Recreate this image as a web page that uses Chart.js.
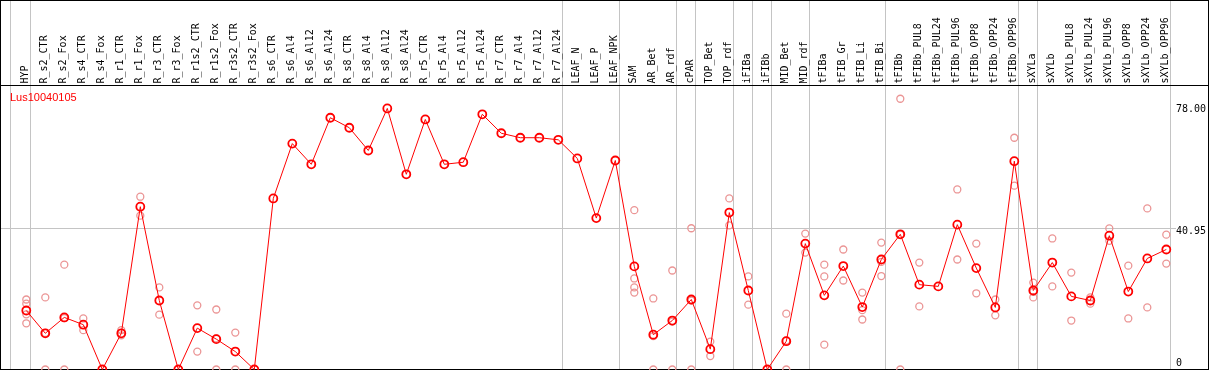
<!DOCTYPE html>
<html>
<head>
<meta charset="utf-8">
<script src="https://cdn.jsdelivr.net/npm/chart.js@4.4.1/dist/chart.umd.min.js"></script>
<style>
  body { margin: 0; background: #fff; }
  canvas { display: block; }
</style>
</head>
<body>
<canvas id="myChart" width="1209" height="370"></canvas>
<script>
const title = 'Lus10040105';

const labels = ['HYP', 'R_s2_CTR', 'R_s2_Fox', 'R_s4_CTR', 'R_s4_Fox', 'R_r1_CTR', 'R_r1_Fox',
  'R_r3_CTR', 'R_r3_Fox', 'R_r1s2_CTR', 'R_r1s2_Fox', 'R_r3s2_CTR', 'R_r3s2_Fox',
  'R_s6_CTR', 'R_s6_Al4', 'R_s6_Al12', 'R_s6_Al24', 'R_s8_CTR', 'R_s8_Al4', 'R_s8_Al12', 'R_s8_Al24',
  'R_r5_CTR', 'R_r5_Al4', 'R_r5_Al12', 'R_r5_Al24', 'R_r7_CTR', 'R_r7_Al4', 'R_r7_Al12', 'R_r7_Al24',
  'LEAF_N', 'LEAF_P', 'LEAF_NPK', 'SAM', 'AR_Bet', 'AR_rdf', 'cPAR', 'TOP_Bet', 'TOP_rdf',
  'iFIBa', 'iFIBb', 'MID_Bet', 'MID_rdf', 'tFIBa', 'tFIB_Gr', 'tFIB_Li', 'tFIB_Bi',
  'tFIBb', 'tFIBb_PUL8', 'tFIBb_PUL24', 'tFIBb_PUL96', 'tFIBb_OPP8', 'tFIBb_OPP24', 'tFIBb_OPP96',
  'sXYLa', 'sXYLb', 'sXYLb_PUL8', 'sXYLb_PUL24', 'sXYLb_PUL96', 'sXYLb_OPP8', 'sXYLb_OPP24', 'sXYLb_OPP96'];

// mean expression
const means = [17.1, 10.5, 15.1, 13.0, 0, 10.5, 47.2, 20.0, 0, 12.0, 8.8, 5.2, 0,
  49.6, 65.5, 59.5, 73.0, 70.1, 63.5, 75.7, 56.6, 72.5, 59.5, 60.1, 74.0, 68.5, 67.2, 67.2, 66.6,
  61.2, 43.9, 60.6, 29.9, 10.1, 14.2, 20.3, 5.9, 45.5, 22.9, 0, 8.2, 36.5,
  21.5, 30.0, 18.1, 31.9, 39.2, 24.6, 24.1, 42.0, 29.4, 18.0, 60.4,
  22.9, 31.0, 21.2, 20.0, 38.8, 22.6, 32.2, 34.8];

// replicates (null = none)
const rep1 = [20.3, 20.9, 30.4, 14.8, null, 11.4, 50.1, 23.8, null, 18.6, 17.4, 10.7, null,
  null, null, null, null, null, null, null, null, null, null, null, null, null, null, null, null,
  null, null, null, 46.2, 20.6, 28.7, 40.95, 8.1, 49.6, 27.0, null, 16.2, 39.4,
  30.4, 34.8, 22.3, 36.8, 78.5, 31.0, null, 52.2, 36.5, 20.3, 67.2,
  25.2, 38.0, 28.1, 20.9, 40.9, 30.1, 46.7, 39.1];
const rep2 = [19.1, 0, 0, 11.4, null, 9.9, 44.6, 15.9, null, 5.2, 0, 0, null,
  null, null, null, null, null, null, null, null, null, null, null, null, null, null, null, null,
  null, null, null, 26.4, 0, 0, 0, 3.9, 41.8, 18.8, null, 0, 33.9,
  27.0, 25.8, 17.2, 31.2, 0, 18.3, null, 31.9, 22.1, 15.7, 53.3,
  20.9, 24.1, 14.2, 19.1, 37.3, 14.8, 18.0, 30.7];
const rep3 = [16.0, 10.6, 14.9, null, null, null, null, null, null, null, 9.0, null, null,
  null, null, null, null, null, null, null, null, null, null, null, null, null, null, null, null,
  null, null, null, 23.8, 9.7, 13.9, 20.0, null, null, null, null, 8.4, null,
  7.2, null, 14.5, 27.1, 39.1, null, null, null, null, null, null,
  22.5, null, null, null, null, null, null, null];
const rep4 = [13.4, null, null, null, null, null, null, null, null, null, null, null, null,
  null, null, null, null, null, null, null, null, null, null, null, null, null, null, null, null,
  null, null, null, 22.3, null, null, null, null, null, null, null, null, null,
  null, null, null, null, null, null, null, null, null, null, null,
  null, null, null, null, null, null, null, null];

const yTicks = [0, 40.95, 78];
const yTickText = ['0', '40.95', '78.00'];
const groupEnds = [-1, 0, 28, 31, 34, 35, 37, 38, 39, 41, 45, 52, 53, 60];

const repColor = '#eb9595';

function repSet(arr) {
  return {
    data: arr,
    showLine: false,
    borderColor: repColor,
    backgroundColor: 'rgba(0,0,0,0)',
    pointRadius: 3.5,
    pointBorderWidth: 1.3,
    pointHoverRadius: 3.5,
    order: 2,
    clip: false
  };
}

const framePlugin = {
  id: 'frame',
  beforeDatasetsDraw(chart) {
    const ctx = chart.ctx;
    const xs = chart.scales.x;
    const ys = chart.scales.y;
    const W = chart.width;
    ctx.save();
    // group separators
    ctx.strokeStyle = '#c4c4c4';
    ctx.lineWidth = 1;
    groupEnds.forEach(i => {
      let x = Math.round(xs.getPixelForValue(i) + 4) + 0.5;
      if (i < 0) x -= 1;
      ctx.beginPath();
      ctx.moveTo(x, 0);
      ctx.lineTo(x, 370);
      ctx.stroke();
    });
    // middle line
    const ym = Math.round(ys.getPixelForValue(40.95)) + 0.5;
    ctx.beginPath();
    ctx.moveTo(0, ym);
    ctx.lineTo(1176, ym);
    ctx.stroke();

    // black frame
    ctx.fillStyle = '#000';
    ctx.fillRect(0, 0, W, 1);
    ctx.fillRect(0, 85, W, 1);
    ctx.fillRect(0, 0, 1, 370);
    ctx.fillRect(1208, 0, 1, 370);
    ctx.fillRect(0, 369, W, 1);

    // category labels
    ctx.fillStyle = '#000';
    ctx.font = '10px "DejaVu Sans Mono"';
    ctx.textAlign = 'left';
    ctx.textBaseline = 'middle';
    labels.forEach((lab, i) => {
      const x = xs.getPixelForValue(i) - 1;
      ctx.save();
      ctx.translate(x, 83.5);
      ctx.rotate(-Math.PI / 2);
      ctx.fillText(lab, 0, 0);
      ctx.restore();
    });

    // value labels on the right
    const shift = [-4, 6, 11.5];
    ctx.textBaseline = 'alphabetic';
    yTicks.forEach((v, i) => {
      ctx.fillText(yTickText[i], 1176, ys.getPixelForValue(v) + shift[i]);
    });

    // title
    ctx.fillStyle = '#ff0000';
    ctx.font = '11px "Liberation Sans"';
    ctx.fillText(title, 10, 101);
    ctx.restore();
  }
};

const config = {
  type: 'line',
  data: {
    labels: labels,
    datasets: [
      {
        data: means,
        borderColor: '#ff0000',
        borderWidth: 1,
        backgroundColor: 'rgba(0,0,0,0)',
        pointBorderColor: '#ff0000',
        pointBackgroundColor: 'rgba(0,0,0,0)',
        pointRadius: 4,
        pointBorderWidth: 1.8,
        pointHoverRadius: 4,
        tension: 0,
        order: 1,
        clip: false
      },
      repSet(rep1),
      repSet(rep2),
      repSet(rep3),
      repSet(rep4)
    ]
  },
  options: {
    responsive: false,
    animation: false,
    devicePixelRatio: 1,
    layout: { autoPadding: false, padding: { left: 26.3, right: 42.7, top: 86, bottom: 0.5 } },
    plugins: { legend: { display: false }, tooltip: { enabled: false } },
    scales: {
      x: { display: false, offset: false },
      y: { display: false, min: 0, max: 82.2 }
    }
  },
  plugins: [framePlugin]
};

const myChart = new Chart(document.getElementById('myChart'), config);
</script>
</body>
</html>
